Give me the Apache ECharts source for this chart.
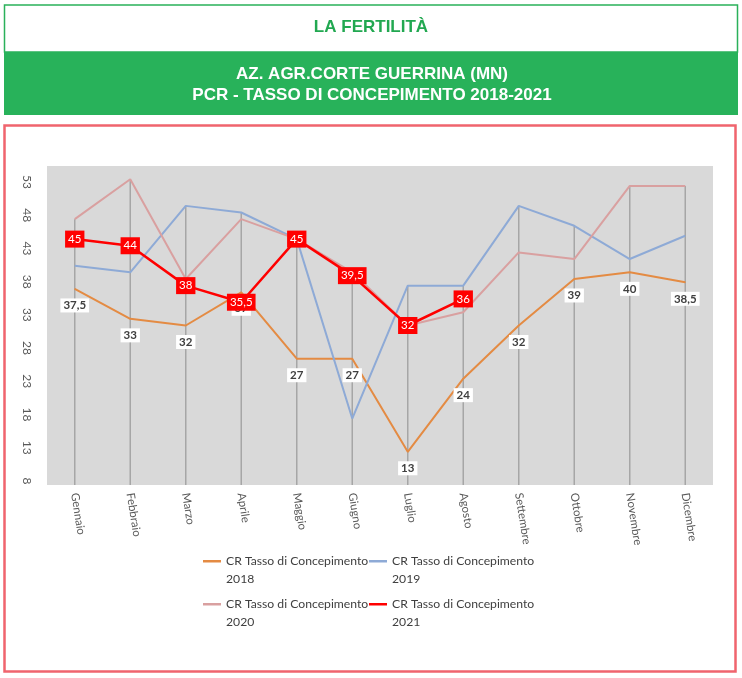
<!DOCTYPE html>
<html>
<head>
<meta charset="utf-8">
<script src="https://cdn.jsdelivr.net/npm/echarts@6/dist/echarts.min.js"></script>
<style>
html,body{margin:0;padding:0;background:#fff;}
#c{width:742px;height:678px;}
</style>
</head>
<body>
<div id="c"></div>
<script>
const months = ['Gennaio','Febbraio','Marzo','Aprile','Maggio','Giugno','Luglio','Agosto','Settembre','Ottobre','Novembre','Dicembre'];
const v2018 = [37.5, 33, 32, 37, 27, 27, 13, 24, 32, 39, 40, 38.5];
const v2019 = [41, 40, 50, 49, 45, 18, 38, 38, 50, 47, 42, 45.5];
const v2020 = [48, 54, 39, 48, 45, 40, 32, 34, 43, 42, 53, 53];
const v2021 = [45, 44, 38, 35.5, 45, 39.5, 32, 36, null, null, null, null];
const seriesNames = ['CR Tasso di Concepimento\n2018','CR Tasso di Concepimento\n2019','CR Tasso di Concepimento\n2020','CR Tasso di Concepimento\n2021'];
const yMin = 8, yMax = 56, yStep = 5;

const dropTop = months.map((m, i) => Math.max(...[v2018[i], v2019[i], v2020[i], v2021[i]].filter(v => v != null)));
const fmt = v => String(v).replace('.', ',');
const FONT = 'Lato, "Noto Sans", sans-serif';

const chart = echarts.init(document.getElementById('c'), null, {renderer: 'canvas'});

function legendAt(name, left, top) {
  return {
    data: [name], left: left, top: top, padding: 0,
    icon: 'rect', itemWidth: 18, itemHeight: 2.5, itemGap: 0,
    formatter: n => '\u00a0\n' + n,
    textStyle: {color: '#404040', fontSize: 12.2, fontFamily: FONT, lineHeight: 17.5}
  };
}

chart.setOption({
  animation: false,
  backgroundColor: '#fff',
  graphic: [
    {type: 'rect', shape: {x: 4.5, y: 5, width: 733, height: 47}, style: {fill: '#fff', stroke: '#2ab15a', lineWidth: 1.5}, silent: true},
    {type: 'rect', shape: {x: 4, y: 52, width: 734, height: 63}, style: {fill: '#28b25a'}, silent: true},
    {type: 'rect', shape: {x: 4.5, y: 125.5, width: 731, height: 546}, style: {fill: 'none', stroke: '#f0646e', lineWidth: 2.5}, silent: true},
    {type: 'text', x: 371, y: 27, style: {text: 'LA FERTILITÀ', fill: '#22a851', font: 'bold 17px "Liberation Sans", Arial, sans-serif', textAlign: 'center', textVerticalAlign: 'middle'}},
    {type: 'text', x: 372, y: 74, style: {text: 'AZ. AGR.CORTE GUERRINA (MN)', fill: '#fff', font: 'bold 17px "Liberation Sans", Arial, sans-serif', textAlign: 'center', textVerticalAlign: 'middle'}},
    {type: 'text', x: 372, y: 95, style: {text: 'PCR - TASSO DI CONCEPIMENTO 2018-2021', fill: '#fff', font: 'bold 17px "Liberation Sans", Arial, sans-serif', textAlign: 'center', textVerticalAlign: 'middle'}}
  ],
  legend: [
    legendAt(seriesNames[0], 203, 535),
    legendAt(seriesNames[1], 369, 535),
    legendAt(seriesNames[2], 203, 578),
    legendAt(seriesNames[3], 369, 578)
  ],
  grid: {left: 47, right: 29, top: 166, bottom: 193, show: true, backgroundColor: '#d9d9d9', borderWidth: 0},
  xAxis: {
    type: 'category', data: months, boundaryGap: true,
    axisLine: {show: false}, axisTick: {show: false},
    axisLabel: {rotate: -81, margin: 8, fontSize: 11.5, color: '#595959', fontFamily: FONT, interval: 0}
  },
  yAxis: {
    type: 'value', min: yMin, max: yMax, interval: yStep,
    splitLine: {show: false}, axisLine: {show: false}, axisTick: {show: false},
    axisLabel: {rotate: -90, margin: 14, fontSize: 12, color: '#595959', fontFamily: FONT, showMaxLabel: false, padding: [0, 8, 0, 0]}
  },
  series: [
    {type: 'bar', name: 'drop', data: dropTop, barWidth: 1.5, itemStyle: {color: '#a6a6a6'}, z: 1, silent: true, clip: true},
    {type: 'line', name: seriesNames[0], data: v2018, z: 2, symbol: 'circle', symbolSize: 1,
      lineStyle: {color: '#e48b43', width: 2}, itemStyle: {color: '#e48b43'},
      label: {show: true, position: 'bottom', distance: 9, formatter: p => fmt(p.value), backgroundColor: '#fff', padding: [1, 3], color: '#404040', fontSize: 11.5, lineHeight: 12, fontFamily: FONT, fontWeight: 'bold'}},
    {type: 'line', name: seriesNames[1], data: v2019, z: 3, symbol: 'none',
      lineStyle: {color: '#8eaad6', width: 2}, itemStyle: {color: '#8eaad6'}},
    {type: 'line', name: seriesNames[2], data: v2020, z: 4, symbol: 'none',
      lineStyle: {color: '#d9a0a0', width: 2}, itemStyle: {color: '#d9a0a0'}},
    {type: 'line', name: seriesNames[3], data: v2021, z: 5, symbol: 'rect', symbolSize: 2,
      lineStyle: {color: '#ff0000', width: 2.5}, itemStyle: {color: '#ff0000'},
      label: {show: true, position: 'inside', formatter: p => fmt(p.value), backgroundColor: '#ff0000', padding: [2, 3, 3, 3], color: '#fff', fontSize: 11.5, lineHeight: 12, fontFamily: FONT}}
  ]
});
</script>
</body>
</html>
